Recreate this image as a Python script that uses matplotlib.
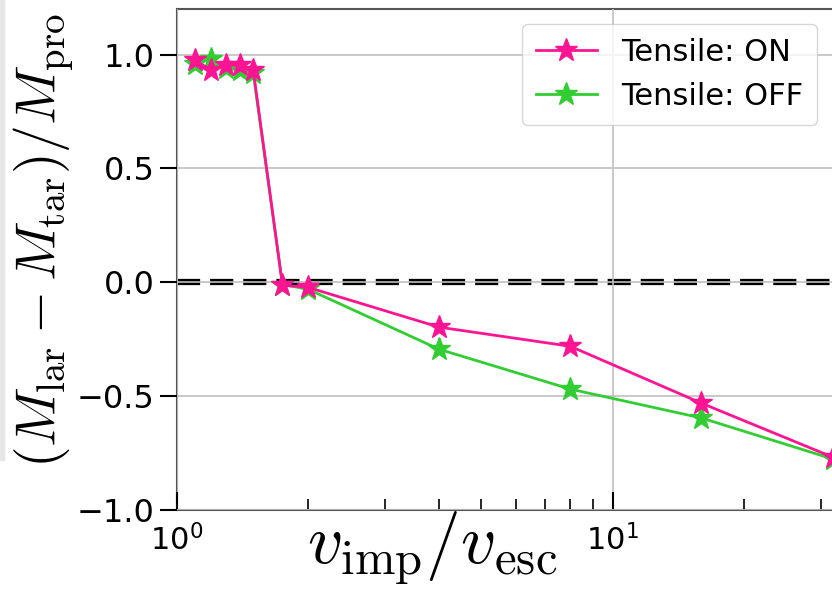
import matplotlib
matplotlib.use("Agg")
import matplotlib.pyplot as plt
from matplotlib.patches import Rectangle

# impact velocity ratio v_imp / v_esc
v_ratio = [1.1, 1.2, 1.3, 1.4, 1.5, 1.75, 2.0, 4.0, 8.0, 16.0, 32.0]

# (M_lar - M_tar) / M_pro
tensile_on = [0.974, 0.934, 0.956, 0.952, 0.930, -0.013, -0.022, -0.197, -0.281, -0.531, -0.768]
tensile_off = [0.960, 0.982, 0.939, 0.934, 0.917, -0.010, -0.030, -0.294, -0.469, -0.596, -0.776]

PINK = "#ff1493"
GREEN = "#32cd32"

plt.rcParams["mathtext.fontset"] = "cm"
plt.rcParams["font.family"] = "DejaVu Sans"

W, H = 832, 590
fig = plt.figure(figsize=(W / 100, H / 100), dpi=100)

# axes runs past the right edge of the figure (cropped look)
x0, x1 = 176.5, 176.5 + 1.56 * 436
y_top, y_bot = 9, 510
ax = fig.add_axes([x0 / W, (H - y_bot) / H, (x1 - x0) / W, (y_bot - y_top) / H])

ax.axhline(0, color="k", ls="--", lw=4.5, zorder=1)
ax.plot(v_ratio, tensile_off, color=GREEN, marker="*", ms=17, lw=2, label="Tensile: OFF", zorder=3)
ax.plot(v_ratio, tensile_on, color=PINK, marker="*", ms=17, lw=2, label="Tensile: ON", zorder=4)

ax.set_xscale("log")
ax.set_xlim(1, 10 ** 1.56)
ax.set_ylim(-1.0, 1.2)
ax.set_yticks([-1.0, -0.5, 0.0, 0.5, 1.0])

ax.grid(True, which="major", color="#c0c0c0", lw=1.2, zorder=1.5)
ax.set_axisbelow(False)

for sp in ax.spines.values():
    sp.set_color("#555555")
    sp.set_linewidth(1.5)

ax.tick_params(axis="x", which="major", direction="in", length=13, width=1.5, labelsize=22, pad=10)
ax.tick_params(axis="x", which="minor", direction="in", length=8, width=1.2)
ax.tick_params(axis="y", which="major", direction="out", length=12, width=1.5, labelsize=23, pad=4)

ax.set_xlabel(r"$v_{\rm imp}/v_{\rm esc}$", fontsize=50)
ax.xaxis.set_label_coords((432 - x0) / (x1 - x0), -(549 - y_bot) / (y_bot - y_top))
ax.set_ylabel(r"$(M_{\rm lar}-M_{\rm tar})/M_{\rm pro}$", fontsize=40)
ax.yaxis.set_label_coords(-(176.5 - 44) / (x1 - x0), 1 - (241 - y_top) / (y_bot - y_top))
ax.yaxis.label.set_va("center")
ax.xaxis.label.set_va("center")

handles, labels = ax.get_legend_handles_labels()
leg = fig.legend(handles[::-1], labels[::-1], loc="upper right", fontsize=22,
                 bbox_to_anchor=(817 / W, 1 - 24 / H), borderaxespad=0, framealpha=0.8,
                 borderpad=0.45, handlelength=2.0)

# grey strip at the left edge of the screenshot
fig.patches.append(Rectangle((0, 1 - 460 / H), 4 / W, 460 / H, transform=fig.transFigure,
                             color="#e6e6e6", zorder=0))

fig.savefig("out.png", dpi=100)
